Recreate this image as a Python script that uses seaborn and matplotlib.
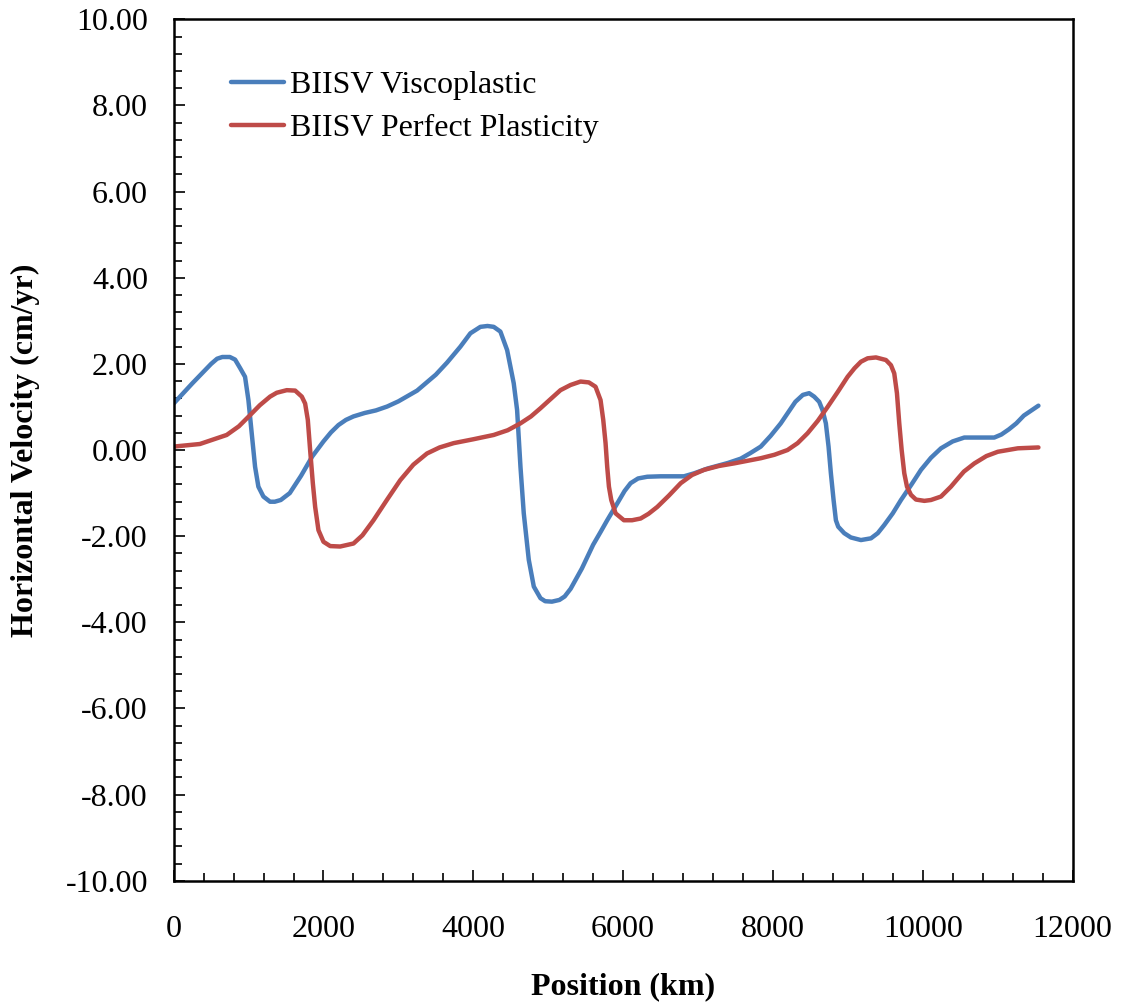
import numpy as np
import pandas as pd
import matplotlib
matplotlib.use("Agg")
import matplotlib.pyplot as plt
from matplotlib.ticker import MultipleLocator, FormatStrFormatter
import seaborn as sns

# Horizontal surface velocity along the domain for two rheologies
visco_pos = [0, 250, 500, 580, 650, 750, 820, 888, 953, 998, 1042, 1087, 1131,
             1198, 1287, 1350, 1430, 1550, 1700, 1850, 2000, 2100, 2200, 2300,
             2400, 2550, 2700, 2850, 3000, 3250, 3500, 3650, 3828, 3961, 4095,
             4190, 4273, 4362, 4452, 4540, 4585, 4630, 4674, 4741, 4808, 4897,
             4960, 5050, 5150, 5220, 5300, 5450, 5600, 5700, 5788, 5922, 6020,
             6100, 6200, 6323, 6500, 6813, 6950, 7126, 7400, 7571, 7700, 7838,
             7970, 8105, 8300, 8400, 8484, 8551, 8618, 8662, 8707, 8743, 8774,
             8810, 8841, 8872, 8952, 9041, 9175, 9309, 9400, 9487, 9600, 9710,
             9850, 9977, 10110, 10244, 10400, 10555, 10750, 10955, 11050, 11150,
             11250, 11350, 11545]
visco_vel = [1.08, 1.55, 2.00, 2.12, 2.16, 2.16, 2.10, 1.90, 1.70, 1.16, 0.39,
             -0.39, -0.85, -1.08, -1.20, -1.20, -1.16, -1.00, -0.60, -0.15, 0.20,
             0.41, 0.58, 0.70, 0.78, 0.86, 0.92, 1.01, 1.13, 1.38, 1.75, 2.03,
             2.40, 2.71, 2.86, 2.88, 2.86, 2.75, 2.32, 1.55, 0.93, -0.39, -1.47,
             -2.55, -3.17, -3.44, -3.51, -3.52, -3.48, -3.40, -3.22, -2.75,
             -2.20, -1.90, -1.63, -1.24, -0.95, -0.77, -0.66, -0.62, -0.61,
             -0.61, -0.54, -0.43, -0.30, -0.20, -0.07, 0.08, 0.33, 0.62, 1.12,
             1.28, 1.32, 1.24, 1.12, 0.93, 0.62, 0.08, -0.54, -1.16, -1.63,
             -1.78, -1.93, -2.03, -2.09, -2.05, -1.93, -1.74, -1.47, -1.16,
             -0.80, -0.46, -0.18, 0.04, 0.20, 0.29, 0.29, 0.29, 0.36, 0.48,
             0.62, 0.80, 1.03]

plastic_pos = [0, 350, 708, 870, 1020, 1150, 1287, 1376, 1510, 1622, 1711, 1755,
               1791, 1822, 1858, 1889, 1933, 2000, 2090, 2223, 2401, 2520, 2668,
               2850, 3025, 3200, 3382, 3550, 3738, 4000, 4273, 4460, 4630, 4770,
               4897, 5030, 5164, 5298, 5432, 5543, 5632, 5699, 5735, 5766, 5788,
               5811, 5842, 5900, 6011, 6120, 6234, 6340, 6457, 6610, 6769, 6920,
               7081, 7280, 7482, 7838, 8020, 8195, 8330, 8463, 8600, 8730, 8870,
               8997, 9090, 9175, 9265, 9376, 9509, 9576, 9620, 9656, 9687, 9719,
               9754, 9790, 9843, 9910, 10022, 10110, 10244, 10377, 10460, 10550,
               10690, 10850, 11003, 11270, 11545]
plastic_vel = [0.08, 0.14, 0.35, 0.55, 0.81, 1.04, 1.24, 1.33, 1.39, 1.38, 1.24,
               1.08, 0.70, 0.00, -0.77, -1.32, -1.86, -2.13, -2.23, -2.24, -2.17,
               -1.98, -1.63, -1.15, -0.70, -0.34, -0.08, 0.06, 0.16, 0.25, 0.35,
               0.46, 0.62, 0.78, 0.97, 1.18, 1.39, 1.51, 1.59, 1.57, 1.47, 1.16,
               0.70, 0.16, -0.39, -0.85, -1.16, -1.47, -1.63, -1.63, -1.59, -1.48,
               -1.32, -1.06, -0.77, -0.58, -0.46, -0.37, -0.31, -0.19, -0.11, 0.00,
               0.16, 0.39, 0.68, 1.00, 1.36, 1.70, 1.90, 2.05, 2.13, 2.15, 2.09,
               1.97, 1.78, 1.32, 0.62, 0.00, -0.54, -0.85, -1.04, -1.15, -1.18,
               -1.16, -1.08, -0.85, -0.68, -0.50, -0.31, -0.14, -0.04, 0.04, 0.06]

series_names = ["BIISV Viscoplastic", "BIISV Perfect Plasticity"]
series_colors = ["#4a7ebb", "#be4b48"]

df = pd.concat([
    pd.DataFrame({"Position": visco_pos, "Velocity": visco_vel, "Model": series_names[0]}),
    pd.DataFrame({"Position": plastic_pos, "Velocity": plastic_vel, "Model": series_names[1]}),
], ignore_index=True)

sns.set_theme(style="white")
plt.rcParams["font.family"] = ["Liberation Serif", "DejaVu Serif"]
plt.rcParams["axes.unicode_minus"] = False
plt.rcParams["text.color"] = "black"
plt.rcParams["axes.labelcolor"] = "black"
plt.rcParams["xtick.color"] = "black"
plt.rcParams["ytick.color"] = "black"

fig = plt.figure(figsize=(11.24, 10.06), dpi=100)
ax = fig.add_axes([0.1545, 0.1245, 0.7997, 0.8563])

sns.lineplot(data=df, x="Position", y="Velocity", hue="Model",
             palette=dict(zip(series_names, series_colors)),
             estimator=None, sort=False, linewidth=3.2, ax=ax)
for ln in ax.get_lines():
    ln.set_solid_joinstyle("round")
    ln.set_solid_capstyle("round")

ax.set_xlim(0, 12000)
ax.set_ylim(-10, 10)
ax.xaxis.set_major_locator(MultipleLocator(2000))
ax.xaxis.set_minor_locator(MultipleLocator(400))
ax.yaxis.set_major_locator(MultipleLocator(2))
ax.yaxis.set_minor_locator(MultipleLocator(0.4))
ax.yaxis.set_major_formatter(FormatStrFormatter("%.2f"))

for side in ["left", "bottom", "right", "top"]:
    ax.spines[side].set_visible(True)
    ax.spines[side].set_color("black")
    ax.spines[side].set_linewidth(1.8)

ax.tick_params(which="both", direction="in", color="black", width=1.2,
               bottom=True, left=True, top=False, right=False)
ax.tick_params(which="major", length=8, labelsize=23)
ax.tick_params(which="minor", length=6)
ax.tick_params(axis="x", which="major", pad=25)
ax.tick_params(axis="y", which="major", pad=18.5)

ax.set_xlabel("Position (km)", fontsize=23, fontweight="bold", labelpad=20)
ax.set_ylabel("Horizontal Velocity (cm/yr)", fontsize=23, fontweight="bold", labelpad=18)

ax.legend(loc="upper left", bbox_to_anchor=(0.05, 0.955), frameon=False,
          fontsize=23, handlelength=1.65, handletextpad=0.2, labelspacing=0.42,
          borderaxespad=0.0)

fig.savefig("out.png", dpi=100)
